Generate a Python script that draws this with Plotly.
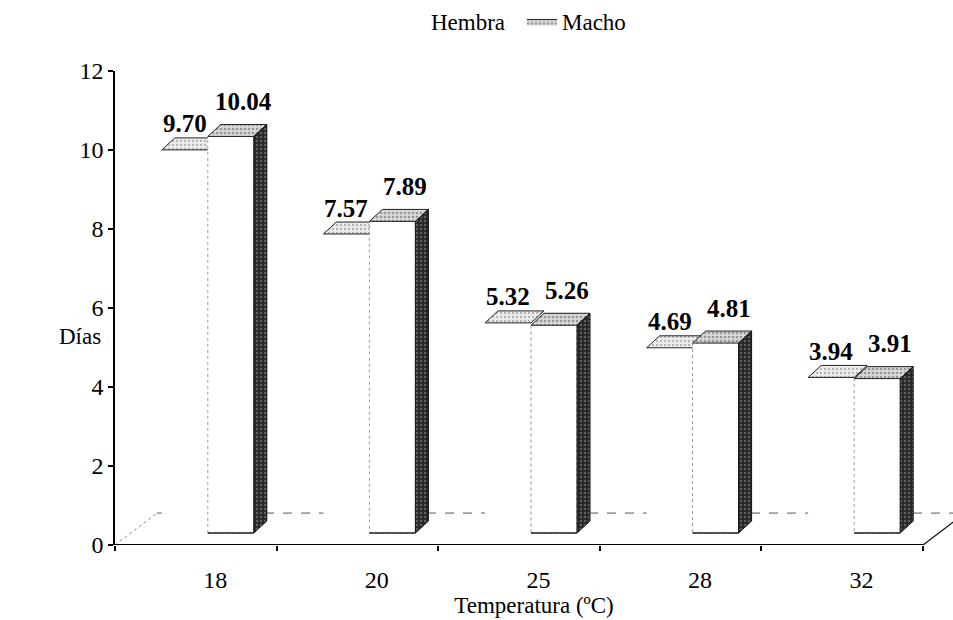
import plotly.graph_objects as go

# ---------------- data ----------------
temps = ["18", "20", "25", "28", "32"]
hembra = [9.70, 7.57, 5.32, 4.69, 3.94]
macho = [10.04, 7.89, 5.26, 4.81, 3.91]
y_ticks = [0, 2, 4, 6, 8, 10, 12]

# ---------------- layout geometry (pixels -> data units) ----------------
W, H = 953, 620
ML, MR, MT, MB = 115, 0, 70, 75
N = len(temps)
PX_X = 161.6                      # pixels per category
XR = (-0.5, -0.5 + (W - ML - MR) / PX_X)
YR = (0, 12)
PX_Y = (H - MT - MB) / (YR[1] - YR[0])
PW = W - ML - MR
PH = H - MT - MB

def dxu(px):
    return px / PX_X

def dyu(px):
    return px / PX_Y

BW = dxu(46)          # bar width
SHIFT = dxu(12)       # pair offset from category centre
BASE = dyu(12)        # front-face base lift (3-D floor)
DX, DY = dxu(13), dyu(12)          # bar depth
FDX, FDY = dxu(42), dyu(32)        # floor depth

FONT = "Liberation Serif, Times New Roman, serif"
idx = list(range(N))


def rects(x0s, x1s, y0s, y1s):
    xs, ys = [], []
    for a, b, c, d in zip(x0s, x1s, y0s, y1s):
        xs += [a, b, b, a, a, None]
        ys += [c, c, d, d, c, None]
    return xs, ys


def tops(x0s, x1s, ts):
    xs, ys = [], []
    for a, b, t in zip(x0s, x1s, ts):
        xs += [a, b, b + DX, a + DX, a, None]
        ys += [t, t, t + DY, t + DY, t, None]
    return xs, ys


def sides(xrs, ts):
    xs, ys = [], []
    for a, t in zip(xrs, ts):
        xs += [a, a + DX, a + DX, a, a, None]
        ys += [BASE, BASE + DY, t + DY, t, BASE, None]
    return xs, ys


fig = go.Figure()

# floor
fig.add_trace(go.Scatter(x=[XR[0] + FDX, N - 0.5 + FDX], y=[FDY, FDY], mode="lines",
                         line=dict(color="#555", width=1, dash="dash"),
                         showlegend=False, hoverinfo="skip"))
fig.add_trace(go.Scatter(x=[XR[0], XR[0] + FDX], y=[0, FDY], mode="lines",
                         line=dict(color="#888", width=1, dash="dot"),
                         showlegend=False, hoverinfo="skip"))
fig.add_trace(go.Scatter(x=[N - 0.5, N - 0.5 + FDX], y=[0, FDY], mode="lines",
                         line=dict(color="#111", width=1.3),
                         showlegend=False, hoverinfo="skip"))

# hembra bars
h_x0 = [i + SHIFT - BW for i in idx]
h_x1 = [i + SHIFT for i in idx]
h_top = [v + BASE for v in hembra]
xs, ys = rects(h_x0, h_x1, [BASE] * N, h_top)
fig.add_trace(go.Scatter(x=xs, y=ys, fill="toself", fillcolor="white", mode="lines",
                         line=dict(color="rgba(255,255,255,0)", width=0),
                         name="Hembra", legendgroup="h", hoverinfo="skip"))
xs, ys = tops(h_x0, h_x1, h_top)
fig.add_trace(go.Scatter(x=xs, y=ys, fill="toself", mode="lines",
                         fillcolor="#e4e4e4",
                         fillpattern=dict(shape=".", bgcolor="#ececec", fgcolor="#777", size=4, solidity=0.25),
                         line=dict(color="#222", width=1),
                         showlegend=False, legendgroup="h", hoverinfo="skip"))

# macho bars
m_x0 = [i + SHIFT for i in idx]
m_x1 = [i + SHIFT + BW for i in idx]
m_top = [v + BASE for v in macho]
xs, ys = rects(m_x0, m_x1, [BASE] * N, m_top)
fig.add_trace(go.Scatter(x=xs, y=ys, fill="toself", fillcolor="white", mode="lines",
                         line=dict(color="#999", width=1, dash="dot"),
                         showlegend=False, legendgroup="m", hoverinfo="skip"))
bx, by = [], []
for a, b in zip(m_x0, m_x1):
    bx += [a, b, None]
    by += [BASE, BASE, None]
fig.add_trace(go.Scatter(x=bx, y=by, mode="lines", line=dict(color="#222", width=1.5),
                         showlegend=False, hoverinfo="skip"))
xs, ys = tops(m_x0, m_x1, m_top)
fig.add_trace(go.Scatter(x=xs, y=ys, fill="toself", mode="lines",
                         fillcolor="#cfcfcf",
                         fillpattern=dict(shape=".", bgcolor="#d8d8d8", fgcolor="#555", size=4, solidity=0.35),
                         line=dict(color="#222", width=1),
                         name="Macho", legendgroup="m", hoverinfo="skip"))
xs, ys = sides(m_x1, m_top)
fig.add_trace(go.Scatter(x=xs, y=ys, fill="toself", mode="lines",
                         fillcolor="#2a2a2a",
                         fillpattern=dict(shape=".", bgcolor="#262626", fgcolor="#9a9a9a", size=4, solidity=0.3),
                         line=dict(color="#111", width=1),
                         showlegend=False, legendgroup="m", hoverinfo="skip"))

# x axis line (category span)
fig.add_trace(go.Scatter(x=[-0.5, N - 0.5], y=[0, 0], mode="lines",
                         line=dict(color="black", width=2), showlegend=False, hoverinfo="skip",
                         cliponaxis=False))

# value labels
ann = []
for i, v in enumerate(hembra):
    ann.append(dict(x=i + SHIFT - BW / 2, y=v + BASE, text=f"{v:.2f}", showarrow=False,
                    yshift=26, font=dict(family=FONT, size=25, color="black", weight="bold")))
for i, v in enumerate(macho):
    ann.append(dict(x=i + SHIFT + BW / 2 + DX, y=v + BASE, text=f"{v:.2f}", showarrow=False,
                    yshift=35, font=dict(family=FONT, size=25, color="black", weight="bold")))
ann.append(dict(xref="paper", yref="paper", x=(80 - ML) / PW, y=(H - MB - 336) / PH,
                text="Días", showarrow=False, xanchor="center", yanchor="middle",
                font=dict(family=FONT, size=23, color="black")))

fig.update_layout(
    width=W, height=H,
    margin=dict(l=ML, r=MR, t=MT, b=MB, pad=0),
    paper_bgcolor="white", plot_bgcolor="white",
    font=dict(family=FONT, size=23, color="black"),
    showlegend=True,
    legend=dict(orientation="h", x=(391 - ML) / PW, xanchor="left",
                y=1 + (MT - 20) / PH, yanchor="middle",
                font=dict(family=FONT, size=23), bgcolor="rgba(0,0,0,0)", itemwidth=30,
                entrywidth=86, entrywidthmode="pixels"),
    annotations=ann,
    xaxis=dict(range=list(XR), tickmode="array", tickvals=[i + 0.12 for i in idx], ticktext=temps,
               ticks="", showline=False, showgrid=False, zeroline=False, automargin=False,
               ticklabelstandoff=18, tickfont=dict(size=24),
               minor=dict(tickmode="array", tickvals=[i - 0.5 for i in range(N + 1)],
                          ticks="outside", ticklen=5, tickcolor="black", tickwidth=1.5, showgrid=False),
               title=dict(text="Temperatura (ºC)", standoff=4, font=dict(size=23))),
    yaxis=dict(range=list(YR), tickmode="array", tickvals=y_ticks, ticks="outside", ticklen=5,
               tickcolor="black", tickwidth=1.5, showline=True, linecolor="black", linewidth=1.5,
               showgrid=False, zeroline=False, automargin=False, tickfont=dict(size=24)),
)

fig.write_html("out.html")
